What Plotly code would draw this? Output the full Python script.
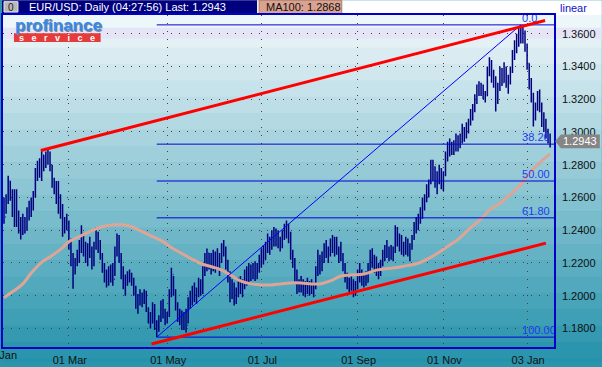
import plotly.graph_objects as go

# ---------------- data ----------------
high = [1.2600,1.2620,1.2733,1.2700,1.2650,1.2650,1.2650,1.2520,1.2480,1.2500,
        1.2480,1.2540,1.2580,1.2600,1.2640,1.2780,1.2824,1.2840,1.2890,1.2860,
        1.2880,1.2900,1.2880,1.2800,1.2720,1.2700,1.2700,1.2620,1.2560,1.2480,
        1.2500,1.2460,1.2350,1.2260,1.2230,1.2280,1.2340,1.2430,1.2380,1.2330,
        1.2320,1.2360,1.2300,1.2330,1.2420,1.2390,1.2340,1.2260,1.2200,1.2160,
        1.2180,1.2190,1.2200,1.2300,1.2380,1.2370,1.2260,1.2180,1.2130,1.2150,
        1.2160,1.2140,1.2110,1.2060,1.2010,1.2040,1.2020,1.2040,1.2030,1.1930,
        1.1900,1.1960,1.1950,1.1850,1.1880,1.1970,1.1980,1.1920,1.1900,1.2040,
        1.2170,1.2120,1.2040,1.1960,1.1920,1.1910,1.1900,1.1920,1.1990,1.2030,
        1.2060,1.2080,1.2050,1.2110,1.2100,1.2180,1.2260,1.2288,1.2260,1.2260,
        1.2280,1.2270,1.2290,1.2260,1.2320,1.2340,1.2300,1.2220,1.2150,1.2100,
        1.2080,1.2050,1.2110,1.2120,1.2100,1.2160,1.2180,1.2200,1.2190,1.2200,
        1.2210,1.2200,1.2250,1.2290,1.2310,1.2330,1.2380,1.2360,1.2400,1.2420,
        1.2410,1.2400,1.2360,1.2400,1.2440,1.2460,1.2440,1.2390,1.2280,1.2230,
        1.2160,1.2100,1.2120,1.2100,1.2090,1.2110,1.2090,1.2100,1.2080,1.2180,
        1.2280,1.2250,1.2270,1.2320,1.2340,1.2300,1.2350,1.2370,1.2360,1.2360,
        1.2300,1.2330,1.2260,1.2200,1.2140,1.2110,1.2130,1.2100,1.2090,1.2160,
        1.2200,1.2160,1.2140,1.2150,1.2200,1.2280,1.2290,1.2250,1.2240,1.2200,
        1.2220,1.2280,1.2310,1.2340,1.2300,1.2310,1.2300,1.2430,1.2420,1.2380,
        1.2370,1.2330,1.2360,1.2350,1.2320,1.2370,1.2450,1.2480,1.2500,1.2540,
        1.2600,1.2620,1.2680,1.2710,1.2830,1.2830,1.2790,1.2760,1.2800,1.2780,
        1.2760,1.2880,1.2940,1.2960,1.2940,1.2950,1.2990,1.2980,1.2990,1.3050,
        1.3030,1.3060,1.3080,1.3140,1.3170,1.3230,1.3290,1.3310,1.3300,1.3290,
        1.3250,1.3400,1.3456,1.3440,1.3380,1.3340,1.3300,1.3400,1.3390,1.3425,
        1.3400,1.3350,1.3400,1.3500,1.3560,1.3600,1.3640,1.3654,1.3650,1.3620,
        1.3540,1.3420,1.3330,1.3240,1.3180,1.3250,1.3260,1.3180,1.3120,1.3080,
        1.3020,1.2990]
low = [1.2440,1.2500,1.2560,1.2580,1.2480,1.2420,1.2420,1.2380,1.2343,1.2370,
       1.2380,1.2400,1.2460,1.2480,1.2520,1.2600,1.2700,1.2720,1.2700,1.2760,
       1.2780,1.2800,1.2760,1.2660,1.2620,1.2560,1.2500,1.2470,1.2360,1.2380,
       1.2400,1.2280,1.2180,1.2042,1.2130,1.2180,1.2200,1.2260,1.2240,1.2200,
       1.2180,1.2230,1.2160,1.2180,1.2280,1.2260,1.2220,1.2140,1.2080,1.2050,
       1.2060,1.2080,1.2060,1.2120,1.2240,1.2200,1.2100,1.2040,1.2000,1.2060,
       1.2080,1.2060,1.2000,1.1920,1.1890,1.1940,1.1930,1.1950,1.1900,1.1830,
       1.1800,1.1830,1.1790,1.1747,1.1780,1.1840,1.1860,1.1820,1.1830,1.1870,
       1.1990,1.2000,1.1910,1.1840,1.1820,1.1790,1.1790,1.1775,1.1830,1.1920,
       1.1940,1.1960,1.1950,1.1990,1.2000,1.2010,1.2120,1.2150,1.2160,1.2130,
       1.2150,1.2140,1.2170,1.2120,1.2200,1.2240,1.2160,1.2080,1.1960,1.1980,
       1.1940,1.1950,1.1990,1.2010,1.1990,1.2040,1.2060,1.2080,1.2090,1.2100,
       1.2090,1.2100,1.2140,1.2170,1.2190,1.2220,1.2260,1.2250,1.2280,1.2300,
       1.2300,1.2290,1.2270,1.2290,1.2340,1.2350,1.2320,1.2220,1.2170,1.2080,
       1.2010,1.2020,1.2020,1.2000,1.1990,1.2010,1.2000,1.2010,1.1990,1.2040,
       1.2120,1.2130,1.2150,1.2200,1.2230,1.2200,1.2240,1.2260,1.2240,1.2250,
       1.2200,1.2210,1.2150,1.2080,1.2040,1.2020,1.2030,1.1990,1.2000,1.2040,
       1.2080,1.2060,1.2050,1.2060,1.2080,1.2150,1.2170,1.2140,1.2120,1.2100,
       1.2120,1.2180,1.2210,1.2230,1.2210,1.2220,1.2210,1.2260,1.2300,1.2270,
       1.2250,1.2240,1.2250,1.2240,1.2210,1.2280,1.2340,1.2380,1.2400,1.2440,
       1.2470,1.2520,1.2570,1.2600,1.2680,1.2700,1.2660,1.2620,1.2680,1.2650,
       1.2640,1.2730,1.2820,1.2850,1.2860,1.2860,1.2880,1.2880,1.2900,1.2930,
       1.2940,1.2960,1.2990,1.3040,1.3070,1.3120,1.3170,1.3220,1.3220,1.3200,
       1.3180,1.3220,1.3340,1.3300,1.3270,1.3125,1.3170,1.3250,1.3280,1.3300,
       1.3270,1.3233,1.3290,1.3360,1.3440,1.3480,1.3520,1.3540,1.3540,1.3490,
       1.3380,1.3260,1.3180,1.3034,1.3070,1.3130,1.3120,1.3030,1.3000,1.2960,
       1.2930,1.2905]
close = [1.2480,1.2590,1.2700,1.2620,1.2520,1.2600,1.2450,1.2420,1.2380,1.2460,
         1.2400,1.2520,1.2560,1.2580,1.2620,1.2740,1.2800,1.2760,1.2860,1.2800,
         1.2850,1.2840,1.2780,1.2680,1.2650,1.2580,1.2560,1.2500,1.2400,1.2440,
         1.2420,1.2320,1.2200,1.2150,1.2200,1.2260,1.2300,1.2380,1.2280,1.2240,
         1.2290,1.2260,1.2200,1.2310,1.2380,1.2280,1.2250,1.2170,1.2120,1.2130,
         1.2090,1.2170,1.2100,1.2280,1.2330,1.2230,1.2130,1.2080,1.2100,1.2120,
         1.2100,1.2080,1.2030,1.1960,1.1950,1.1990,1.1960,1.2020,1.1920,1.1860,
         1.1850,1.1940,1.1810,1.1790,1.1860,1.1950,1.1890,1.1850,1.1880,1.2020,
         1.2130,1.2020,1.1940,1.1870,1.1900,1.1850,1.1880,1.1820,1.1980,1.1960,
         1.2040,1.1990,1.2030,1.2090,1.2020,1.2160,1.2200,1.2260,1.2180,1.2220,
         1.2170,1.2240,1.2200,1.2240,1.2300,1.2280,1.2200,1.2110,1.2040,1.2070,
         1.1980,1.2030,1.2080,1.2040,1.2070,1.2140,1.2100,1.2170,1.2120,1.2180,
         1.2130,1.2170,1.2230,1.2270,1.2220,1.2310,1.2350,1.2290,1.2380,1.2330,
         1.2390,1.2320,1.2300,1.2380,1.2410,1.2380,1.2340,1.2250,1.2200,1.2120,
         1.2050,1.2080,1.2050,1.2030,1.2060,1.2040,1.2070,1.2030,1.2060,1.2160,
         1.2230,1.2180,1.2240,1.2290,1.2260,1.2280,1.2330,1.2300,1.2340,1.2270,
         1.2280,1.2240,1.2180,1.2100,1.2070,1.2090,1.2050,1.2020,1.2070,1.2130,
         1.2120,1.2090,1.2110,1.2080,1.2180,1.2250,1.2200,1.2220,1.2150,1.2170,
         1.2200,1.2260,1.2280,1.2260,1.2280,1.2240,1.2270,1.2400,1.2330,1.2350,
         1.2290,1.2310,1.2320,1.2270,1.2300,1.2350,1.2430,1.2460,1.2480,1.2520,
         1.2580,1.2600,1.2660,1.2690,1.2790,1.2760,1.2700,1.2730,1.2760,1.2700,
         1.2740,1.2860,1.2900,1.2930,1.2890,1.2930,1.2960,1.2910,1.2970,1.3000,
         1.2990,1.3040,1.3060,1.3120,1.3140,1.3200,1.3260,1.3280,1.3250,1.3230,
         1.3220,1.3380,1.3420,1.3330,1.3310,1.3180,1.3280,1.3360,1.3300,1.3390,
         1.3300,1.3320,1.3380,1.3480,1.3540,1.3580,1.3600,1.3620,1.3600,1.3520,
         1.3420,1.3290,1.3220,1.3100,1.3150,1.3220,1.3150,1.3060,1.3030,1.2990,
         1.2970,1.2943]
first_open = 1.2560
open_ = [first_open] + close[:-1]
bars = list(range(len(close)))

# 100-day moving average, read at sample bars
ma_x = [0, 4, 9, 13, 18, 23, 28, 31, 35, 40, 44, 49, 53, 57, 61, 66, 70, 76, 80, 85,
        90, 95, 100, 104, 109, 113, 118, 123, 128, 132, 137, 142, 147, 151, 156, 161,
        166, 172, 178, 185, 191, 198, 203, 207, 212, 218, 223, 228, 232, 237, 242,
        247, 251, 256, 261]
ma_y = [1.1988, 1.2024, 1.2072, 1.2138, 1.2204, 1.2246, 1.2294, 1.2330, 1.2355, 1.2385,
        1.2409, 1.2427, 1.2433, 1.2433, 1.2421, 1.2391, 1.2367, 1.2330, 1.2294, 1.2258,
        1.2222, 1.2192, 1.2174, 1.2156, 1.2120, 1.2090, 1.2072, 1.2066, 1.2066, 1.2072,
        1.2078, 1.2078, 1.2072, 1.2072, 1.2090, 1.2120, 1.2126, 1.2132, 1.2156, 1.2168,
        1.2180, 1.2198, 1.2228, 1.2258, 1.2300, 1.2355, 1.2415, 1.2469, 1.2523, 1.2565,
        1.2619, 1.2679, 1.2746, 1.2812, 1.2866]

tick_idx = [31, 78, 123, 169, 210, 250]
tick_text = ["01 Mar", "01 May", "01 Jul", "01 Sep", "01 Nov", "03 Jan"]
price_ticks = [1.18, 1.20, 1.22, 1.24, 1.26, 1.28, 1.30, 1.32, 1.34, 1.36]

fib_ratios = [0.0, 38.2, 50.0, 61.8, 100.0]
fib_labels = ["0.0", "38.20", "50.00", "61.80", "100.00"]
fib_high, fib_low = 1.3654, 1.1747
fib_low_bar, fib_high_bar = 73, 247

upper_x, upper_y = [17.6, 258.6], [1.2887, 1.3681]
lower_x, lower_y = [70.5, 259.0], [1.1705, 1.2321]

last_price = 1.2943
ma_last = 1.2868

# ---------------- geometry helpers ----------------
W, H = 602, 367
PL, PR, PT, PB = 1, 554, 15, 352
BAR0, BARW = 2.0, 2.1          # pixel of bar 0, pixels per bar
PX_PER_UNIT = 1662.0
Y_REF_PX, Y_REF_VAL = 34.0, 1.36


def xp(px):
    return (px - PL) / (PR - PL)


def yp(py):
    return (PB - py) / (PB - PT)


def idx_of(px):
    return (px - BAR0) / BARW


def val_of(py):
    return Y_REF_VAL - (py - Y_REF_PX) / PX_PER_UNIT


NAVY = "#000080"
FONT = "Liberation Sans, Arial, sans-serif"

fig = go.Figure()

fig.add_trace(go.Ohlc(
    x=bars, open=open_, high=high, low=low, close=close,
    increasing=dict(line=dict(color=NAVY, width=1.5)),
    decreasing=dict(line=dict(color=NAVY, width=1.5)),
    tickwidth=0.3, hoverinfo="skip"))

fig.add_trace(go.Scatter(x=ma_x, y=ma_y, mode="lines",
                         line=dict(color="#dea596", width=3, shape="spline"),
                         hoverinfo="skip"))

# Fibonacci retracement
fib_levels = [fib_high - r / 100.0 * (fib_high - fib_low) for r in fib_ratios]
fig.add_trace(go.Scatter(x=[fib_low_bar, fib_high_bar], y=[fib_low, fib_high],
                         mode="lines", line=dict(color="#0000ff", width=1),
                         hoverinfo="skip"))
fx, fy = [], []
for lv in fib_levels:
    fx += [fib_low_bar, idx_of(PR + 20), None]
    fy += [lv, lv, None]
fig.add_trace(go.Scatter(x=fx, y=fy, mode="lines",
                         line=dict(color="#0000d8", width=1), hoverinfo="skip"))

# trend lines
for tx, ty in ((upper_x, upper_y), (lower_x, lower_y)):
    fig.add_trace(go.Scatter(x=tx, y=ty, mode="lines",
                             line=dict(color="#ff0000", width=3), hoverinfo="skip"))

lab_x = idx_of(522)
fig.add_trace(go.Scatter(x=[lab_x] * 4, y=fib_levels[1:], text=fib_labels[1:],
                         mode="text", textposition="top right", cliponaxis=True,
                         textfont=dict(family=FONT, size=11, color="#1a3cf0"),
                         hoverinfo="skip"))
fig.add_trace(go.Scatter(x=[lab_x], y=fib_levels[:1], text=fib_labels[:1],
                         mode="text", textposition="top right", cliponaxis=False,
                         textfont=dict(family=FONT, size=11, color="#1a3cf0"),
                         hoverinfo="skip"))

# ---------------- background ----------------
shapes = []
top_c = (242, 248, 251)
bot_c = (36, 146, 171)
band = 16.6
py = PT
while py < H:
    t = min(1.0, (py + band / 2 - PT) / (H - PT))
    c = tuple(int(round(top_c[k] + (bot_c[k] - top_c[k]) * t)) for k in range(3))
    shapes.append(dict(type="rect", xref="paper", yref="paper", layer="below",
                       x0=xp(0), x1=xp(W), y0=yp(min(py + band + 0.5, H)), y1=yp(py),
                       fillcolor="rgb(%d,%d,%d)" % c, line=dict(width=0)))
    py += band
# light lavender band near the top gridline
shapes.append(dict(type="rect", xref="paper", yref="paper", layer="below",
                   x0=xp(0), x1=xp(W), y0=yp(39), y1=yp(28),
                   fillcolor="#e4e6f7", line=dict(width=0)))
# white header strip
shapes.append(dict(type="rect", xref="paper", yref="paper", layer="below",
                   x0=xp(0), x1=xp(W), y0=yp(PT), y1=yp(0),
                   fillcolor="#ffffff", line=dict(width=0)))
# title bar
shapes.append(dict(type="rect", xref="paper", yref="paper", layer="below",
                   x0=xp(0), x1=xp(256), y0=yp(13.5), y1=yp(0),
                   fillcolor="#00007e", line=dict(width=0)))
shapes.append(dict(type="rect", xref="paper", yref="paper", layer="below",
                   x0=xp(2), x1=xp(16), y0=yp(12), y1=yp(1.5),
                   fillcolor="#b8b8b8", line=dict(color="#e8e8e8", width=1)))
shapes.append(dict(type="rect", xref="paper", yref="paper", layer="below",
                   x0=xp(258), x1=xp(341), y0=yp(13.5), y1=yp(0),
                   fillcolor="#d9a291", line=dict(color="#b07868", width=1)))
# logo bar
shapes.append(dict(type="rect", xref="paper", yref="paper", layer="above",
                   x0=xp(12), x1=xp(99), y0=yp(42.5), y1=yp(33.5),
                   fillcolor="#e43c3c", line=dict(width=0)))
# last price marker
ly = 34 + (1.36 - last_price) * PX_PER_UNIT
path = "M %f %f L %f %f L %f %f L %f %f L %f %f Z" % (
    xp(555), yp(ly), xp(561), yp(ly - 7), xp(600), yp(ly - 7),
    xp(600), yp(ly + 7), xp(561), yp(ly + 7))
shapes.append(dict(type="path", xref="paper", yref="paper", layer="above",
                   path=path, fillcolor="#858585", line=dict(width=0)))

ann = []


def text(px, py, s, color, size=11, anchor="left", bold=False, shadow=None):
    a = dict(xref="paper", yref="paper", x=xp(px), y=yp(py), text=s, showarrow=False,
             xanchor=anchor, yanchor="middle",
             font=dict(family=FONT, size=size, color=color))
    if bold:
        a["font"]["weight"] = "bold"
    if shadow:
        a["font"]["shadow"] = shadow
    ann.append(a)


text(25, 7, "EUR/USD: Daily (04:27:56) Last: 1.2943", "#ffffff")
text(9, 7, "0", "#202020", size=10, anchor="center")
text(263, 7, "MA100: %.4f" % ma_last, "#101010")
text(558, 8, "linear", "#1010c8")
text(580.5, ly, "%.4f" % last_price, "#ffffff", anchor="center")
text(-2, 360, "01 Jan", "#101010", anchor="center")
text(11, 26, "profinance", "#3a88e8", size=17, bold=True,
     shadow="1px 1px 0px #7a8a9a")
text(55.5, 38, "s   e   r   v   i   c   e", "#ffffff", size=9, anchor="center", bold=True)

fig.update_layout(
    width=W, height=H,
    margin=dict(l=PL, r=W - PR, t=PT, b=H - PB, pad=0),
    paper_bgcolor="#2a95ad", plot_bgcolor="rgba(0,0,0,0)",
    showlegend=False, shapes=shapes, annotations=ann,
    font=dict(family=FONT, size=11, color="#101010"),
    xaxis=dict(range=[idx_of(PL), idx_of(PR)], rangeslider=dict(visible=False),
               tickvals=tick_idx, ticktext=tick_text, ticks="", ticklabelshift=1,
               ticklabelstandoff=2,
               showgrid=True, gridcolor="#5a3a2c", gridwidth=1, griddash="1px,7px",
               zeroline=False, showline=True, mirror=True, linecolor="#0000c8",
               linewidth=1.5, tickfont=dict(size=11, color="#101010")),
    yaxis=dict(range=[val_of(PB), val_of(PT)], side="right",
               tickvals=price_ticks, ticktext=["%.4f" % v for v in price_ticks],
               ticks="", ticklabelstandoff=4,
               showgrid=True, gridcolor="#5a3a2c", gridwidth=1, griddash="1px,7px",
               zeroline=False, showline=True, mirror=True, linecolor="#0000c8",
               linewidth=1.5, tickfont=dict(size=11, color="#101010")),
)

fig.write_html("out.html", config={"displayModeBar": False},
               post_script="document.body.style.margin='0';"
                           "document.body.style.overflow='hidden';")
